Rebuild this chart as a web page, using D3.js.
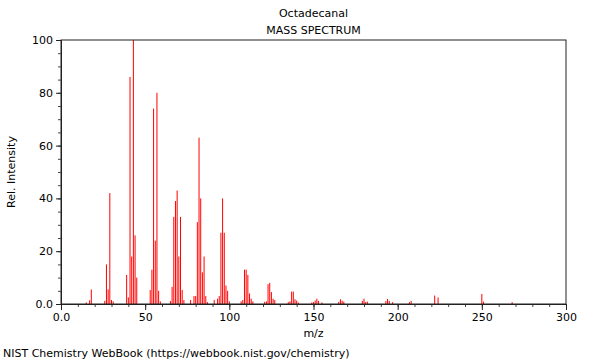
<!DOCTYPE html>
<html>
<head>
<meta charset="utf-8">
<script src="https://cdn.jsdelivr.net/npm/d3@7"></script>
<style>
  html, body { margin: 0; padding: 0; background: #fff; }
  svg { display: block; font-family: "DejaVu Sans", sans-serif; }
</style>
</head>
<body>
<svg id="chart" width="600" height="360"></svg>
<script>
// ---- data (m/z, relative intensity) ----
const mzValues = [15,17,18,26,27,28,29,30,31,39,40,41,42,43,44,45,53,54,55,56,57,58,59,
  65,66,67,68,69,70,71,72,73,77,79,80,81,82,83,84,85,86,87,91,93,94,95,96,97,98,99,100,
  107,108,109,110,111,112,113,114,121,122,123,124,125,126,127,135,136,137,138,139,140,141,
  149,150,151,152,153,155,165,166,167,168,179,180,181,182,193,194,195,197,207,208,222,224,250,251,268];
const intensities = [0.6,1.4,5.5,1.2,15,5.5,42,1.5,1.0,11,2.5,86,18,100,26,10,5.3,13,74,24,80,5,1,
  1.1,6.5,33,39,43,18,33,5.3,1.5,1.5,3,3,31,63,40,12,18,3,0.7,1.5,2,3,27,40,27,7,5,1,
  1,1.5,13,13,11,4,2,1,0.8,1,7.5,8,4.5,2,1.5,0.7,1,4.7,4.7,1.8,1.3,0.6,
  0.6,0.7,1.3,2,1.2,0.6,0.8,1.8,1.3,0.9,1.2,2,0.7,0.9,1.1,1.9,1.2,0.7,0.7,1.2,3.2,2.5,3.8,0.9,0.7];
const xMajorTicks = [0,50,100,150,200,250,300];
const xMinorTicks = d3.range(0,301,10);
const yMajorTicks = [0,20,40,60,80,100];
const yMinorTicks = d3.range(0,101,5);
const titleText = "Octadecanal";
const subtitleText = "MASS SPECTRUM";
const xLabel = "m/z";
const yLabel = "Rel. Intensity";
const footerText = "NIST Chemistry WebBook (https://webbook.nist.gov/chemistry)";

(function () {
const peaks = mzValues.map((m,i) => ({mz: m, v: intensities[i]}));

const svg = d3.select("#chart");
const pL = 61, pR = 566, pT = 40, pB = 304;
const x = d3.scaleLinear().domain([0,300]).range([pL,pR]);
const y = d3.scaleLinear().domain([0,100]).range([pB,pT]);
const fmt = d => d === 0 ? "0.0" : String(d);

// peaks
svg.append("g").selectAll("line").data(peaks).join("line")
  .attr("x1", d => x(d.mz)).attr("x2", d => x(d.mz))
  .attr("y1", y(0)).attr("y2", d => y(d.v))
  .attr("stroke", "#ff0000").attr("stroke-width", 1);

// frame
svg.append("rect").attr("x", pL).attr("y", pT)
  .attr("width", pR-pL).attr("height", pB-pT)
  .attr("fill", "none").attr("stroke", "#222").attr("stroke-width", 1);

// axes: minor
svg.append("g").attr("transform", `translate(0,${pB})`)
  .call(d3.axisBottom(x).tickValues(xMinorTicks).tickSize(3).tickFormat(""))
  .call(g => g.select(".domain").remove())
  .call(g => g.selectAll("line").attr("stroke", "#444"));
svg.append("g").attr("transform", `translate(${pL},0)`)
  .call(d3.axisLeft(y).tickValues(yMinorTicks).tickSize(3).tickFormat(""))
  .call(g => g.select(".domain").remove())
  .call(g => g.selectAll("line").attr("stroke", "#444"));

// axes: major
svg.append("g").attr("transform", `translate(0,${pB})`)
  .call(d3.axisBottom(x).tickValues(xMajorTicks).tickSize(6).tickPadding(3).tickFormat(fmt))
  .call(g => g.select(".domain").attr("stroke", "#222"))
  .call(g => g.selectAll("line").attr("stroke", "#222"))
  .call(g => g.selectAll("text").attr("font-size", 11).attr("fill", "#000")
     .attr("font-family", "DejaVu Sans"));
svg.append("g").attr("transform", `translate(${pL},0)`)
  .call(d3.axisLeft(y).tickValues(yMajorTicks).tickSize(5).tickPadding(3).tickFormat(fmt))
  .call(g => g.select(".domain").attr("stroke", "#222"))
  .call(g => g.selectAll("line").attr("stroke", "#222"))
  .call(g => g.selectAll("text").attr("font-size", 11).attr("fill", "#000")
     .attr("font-family", "DejaVu Sans"));

// texts
const cx = (pL+pR)/2;
svg.append("text").attr("x", cx).attr("y", 17).attr("text-anchor", "middle")
  .attr("font-size", 11).text(titleText);
svg.append("text").attr("x", cx).attr("y", 34).attr("text-anchor", "middle")
  .attr("font-size", 11).text(subtitleText);
svg.append("text").attr("x", cx).attr("y", 337).attr("text-anchor", "middle")
  .attr("font-size", 11).text(xLabel);
svg.append("text").attr("transform", `translate(15,${(pT+pB)/2}) rotate(-90)`)
  .attr("text-anchor", "middle").attr("font-size", 11).text(yLabel);
svg.append("text").attr("x", 3).attr("y", 357).attr("font-size", 11).text(footerText);
})();
</script>
</body>
</html>
